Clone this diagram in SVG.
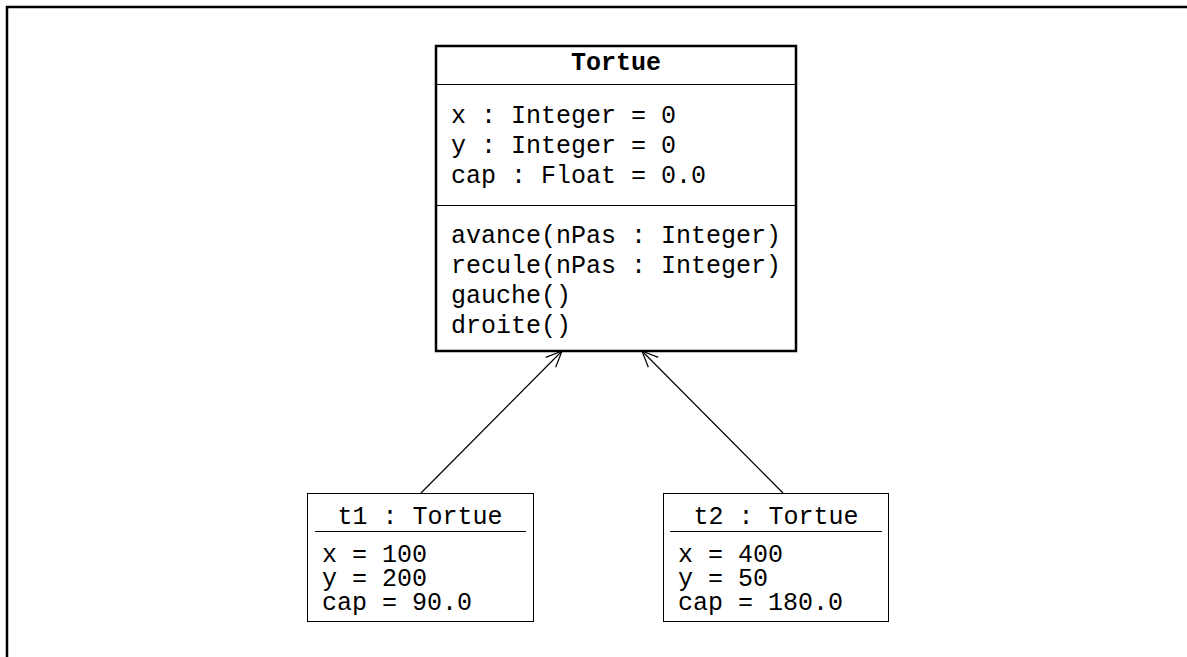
<svg xmlns="http://www.w3.org/2000/svg" width="1187" height="657" viewBox="0 0 1187 657">
<defs>
<marker id="open" viewBox="0 0 20 20" refX="18" refY="10" markerWidth="20" markerHeight="20" markerUnits="userSpaceOnUse" orient="auto">
<path d="M2,3 L18,10 L2,17" fill="none" stroke="#000" stroke-width="1.2"/>
</marker>
<style>
text{font-family:"Liberation Mono","Courier New",monospace;font-size:25px;fill:#000}
.b{font-weight:bold;text-anchor:middle}
.m{text-anchor:middle}
.box{fill:#fff;stroke:#000}
.div{stroke:#000;stroke-width:1}
</style>
</defs>
<rect width="1187" height="657" fill="#fff"/>
<path d="M7,657 V7 H1187" fill="none" stroke="#000" stroke-width="2.5"/>
<g id="connectors" stroke="#000" stroke-width="1.2" fill="none">
<line x1="421" y1="493" x2="562" y2="351" marker-end="url(#open)"/>
<line x1="783" y1="493" x2="642" y2="351" marker-end="url(#open)"/>
</g>
<g id="Tortue">
<rect class="box" x="436" y="46" width="360" height="305" stroke-width="2.5"/>
<line class="div" x1="436" y1="84.5" x2="796" y2="84.5"/>
<line class="div" x1="436" y1="205.5" x2="796" y2="205.5"/>
<text class="b" x="616" y="70">Tortue</text>
<text x="451" y="123">x : Integer = 0</text>
<text x="451" y="153">y : Integer = 0</text>
<text x="451" y="183">cap : Float = 0.0</text>
<text x="451" y="243">avance(nPas : Integer)</text>
<text x="451" y="273">recule(nPas : Integer)</text>
<text x="451" y="303">gauche()</text>
<text x="451" y="333">droite()</text>
</g>
<g id="t1">
<rect class="box" x="307.5" y="493.5" width="226" height="128" stroke-width="1"/>
<text class="m" x="420" y="524">t1 : Tortue</text>
<line class="div" x1="315" y1="531.5" x2="526" y2="531.5"/>
<text x="322" y="562">x = 100</text>
<text x="322" y="586">y = 200</text>
<text x="322" y="610">cap = 90.0</text>
</g>
<g id="t2">
<rect class="box" x="663.5" y="493.5" width="225" height="128" stroke-width="1"/>
<text class="m" x="776" y="524">t2 : Tortue</text>
<line class="div" x1="670" y1="531.5" x2="882" y2="531.5"/>
<text x="678" y="562">x = 400</text>
<text x="678" y="586">y = 50</text>
<text x="678" y="610">cap = 180.0</text>
</g>
</svg>
